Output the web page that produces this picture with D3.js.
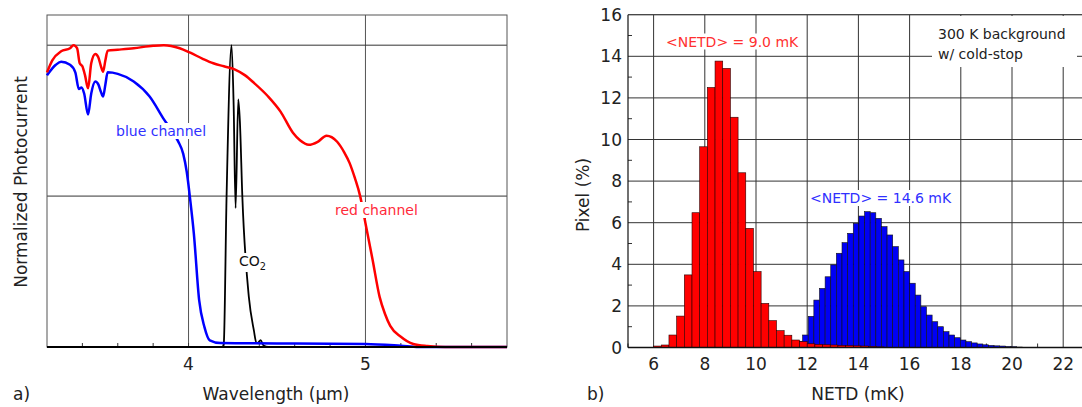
<!DOCTYPE html>
<html>
<head>
<meta charset="utf-8">
<script src="https://cdn.jsdelivr.net/npm/d3@7"></script>
<style>
  body { margin: 0; background: #fff; }
  svg { display: block; font-family: "DejaVu Sans", sans-serif; }
</style>
</head>
<body>
<script>
// ---- panel a) spectral response ----
var redWl  = [3.20,3.23,3.28,3.33,3.35,3.37,3.385,3.40,3.415,3.432,3.45,3.473,3.49,3.505,3.517,3.53,3.543,3.60,3.69,3.80,3.86,3.95,4.01,4.08,4.14,4.20,4.26,4.32,4.37,4.45,4.52,4.59,4.63,4.68,4.73,4.78,4.84,4.88,4.91,4.94,4.97,5.00,5.04,5.08,5.11,5.14,5.20,5.27,5.35,5.45,5.80];
var redVal = [0.91,0.95,0.98,0.99,1.0,0.99,0.94,0.93,0.90,0.857,0.94,0.971,0.96,0.93,0.912,0.95,0.982,0.985,0.99,0.998,1.0,0.99,0.975,0.955,0.94,0.93,0.92,0.90,0.875,0.83,0.78,0.71,0.685,0.67,0.68,0.70,0.68,0.645,0.61,0.56,0.50,0.41,0.29,0.166,0.11,0.07,0.034,0.01,0.003,0,0];

var blueWl  = [3.20,3.25,3.28,3.33,3.36,3.38,3.395,3.41,3.432,3.45,3.473,3.49,3.505,3.517,3.53,3.543,3.60,3.69,3.78,3.86,3.94,3.97,3.99,4.01,4.03,4.06,4.09,4.12,4.18,4.50,5.00,5.20,5.30,5.80];
var blueVal = [0.90,0.935,0.945,0.935,0.91,0.855,0.86,0.84,0.77,0.84,0.88,0.87,0.845,0.83,0.87,0.91,0.905,0.88,0.83,0.755,0.683,0.64,0.58,0.485,0.376,0.155,0.066,0.022,0.013,0.012,0.01,0.004,0,0];

var co2Wl  = [3.20,4.19,4.199,4.215,4.243,4.255,4.266,4.281,4.29,4.304,4.341,4.369,4.384,4.395,4.407,4.424,4.45,5.80];
var co2Val = [0,0,0.01,0.5,1.0,0.8,0.46,0.82,0.75,0.5,0.165,0.056,0.013,0.015,0.023,0.005,0,0];

var wlTicks = [4, 5];

// ---- panel b) NETD histograms ----
var redBins = [6.0,6.3,6.6,6.9,7.2,7.5,7.8,8.1,8.4,8.7,9.0,9.3,9.6,9.9,10.2,10.5,10.8,11.1,11.4,11.7,12.0,12.3,12.6,12.9,13.2,13.5,13.8,14.1,14.4,14.7];
var redPct  = [0.07,0.12,0.6,1.51,3.49,6.48,9.65,12.5,13.77,13.42,11.07,8.4,5.73,3.65,2.12,1.29,0.81,0.59,0.36,0.28,0.18,0.15,0.13,0.12,0.1,0.09,0.08,0.07,0.05,0.03];
var redBinW = 0.3;

var blueBins = [11.60,11.82,12.04,12.26,12.48,12.70,12.92,13.14,13.36,13.58,13.80,14.02,14.24,14.46,14.68,14.90,15.12,15.34,15.56,15.78,16.00,16.22,16.44,16.66,16.88,17.10,17.32,17.54,17.76,17.98,18.20,18.42,18.64,18.86,19.08,19.30,19.52,19.74,19.96,20.18];
var bluePct  = [0.3,0.6,1.5,2.28,2.84,3.4,3.97,4.53,5.04,5.49,5.97,6.32,6.53,6.48,6.21,5.81,5.41,4.85,4.21,3.65,3.09,2.52,1.96,1.56,1.24,1.0,0.76,0.6,0.47,0.36,0.28,0.22,0.17,0.13,0.1,0.08,0.07,0.05,0.04,0.02];
var blueBinW = 0.22;

var netdTicks = [6,8,10,12,14,16,18,20,22];
var pixelTicks = [0,2,4,6,8,10,12,14,16];

var svg = d3.select("body").append("svg").attr("width",1082).attr("height",407);

// white box behind a text element
function boxed(g, x, y, str, color, size, sub) {
  var t = g.append("text").attr("x",x).attr("y",y).attr("fill",color)
    .attr("font-size",size).text(str);
  if (sub) t.append("tspan").attr("font-size",size*0.7).attr("dy",4).text(sub);
  var b = t.node().getBBox();
  g.insert("rect","text:last-of-type")
    .attr("x",b.x-2).attr("y",b.y).attr("width",b.width+4).attr("height",b.height)
    .attr("fill","#fff");
  return t;
}

// ================= panel a =================
var xL = d3.scaleLinear().domain([3.2,5.8]).range([47,507]);
var yL = d3.scaleLinear().domain([0,1.1]).range([347,15]);
var ga = svg.append("g");

// grid
ga.selectAll(".vg").data(wlTicks).enter().append("line")
  .attr("x1",function(d){return xL(d);}).attr("x2",function(d){return xL(d);})
  .attr("y1",yL(1.1)).attr("y2",yL(0)).attr("stroke","#555").attr("stroke-width",1);
ga.selectAll(".hg").data([0.5,1.0]).enter().append("line")
  .attr("x1",xL(3.2)).attr("x2",xL(5.8))
  .attr("y1",function(d){return yL(d);}).attr("y2",function(d){return yL(d);})
  .attr("stroke","#333").attr("stroke-width",1);

// minor ticks on bottom
ga.selectAll(".mt").data(d3.range(3.4,5.8,0.2)).enter().append("line")
  .attr("x1",function(d){return xL(d);}).attr("x2",function(d){return xL(d);})
  .attr("y1",yL(0)).attr("y2",yL(0)-4).attr("stroke","#333");

// frame
ga.append("rect").attr("x",xL(3.2)).attr("y",yL(1.1))
  .attr("width",xL(5.8)-xL(3.2)).attr("height",yL(0)-yL(1.1))
  .attr("fill","none").attr("stroke","#555").attr("stroke-width",1);

function curve(wl, val, color, w) {
  var pts = wl.map(function(d,i){return [d,val[i]];});
  ga.append("path").datum(pts)
    .attr("d", d3.line().x(function(d){return xL(d[0]);}).y(function(d){return yL(d[1]);})
      .curve(d3.curveMonotoneX))
    .attr("fill","none").attr("stroke",color).attr("stroke-width",w)
    .attr("stroke-linejoin","round");
}
curve(co2Wl, co2Val, "#000", 1.8);
curve(blueWl, blueVal, "#0000ff", 2.5);
curve(redWl, redVal, "#ff0000", 2.5);

ga.append("line").attr("x1",xL(3.2)).attr("x2",xL(5.8)).attr("y1",yL(0)).attr("y2",yL(0))
  .attr("stroke","#000").attr("stroke-width",2);

boxed(ga, 116, 136, "blue channel", "#3030ff", 14);
boxed(ga, 335, 215, "red channel", "#ff2a3a", 14);
boxed(ga, 239, 266, "CO", "#111", 14, "2");

ga.selectAll(".tl").data(wlTicks).enter().append("text")
  .attr("x",function(d){return xL(d);}).attr("y",370).attr("text-anchor","middle")
  .attr("font-size",17).attr("fill","#222").text(function(d){return d;});

ga.append("text").attr("transform","translate(27,182) rotate(-90)")
  .attr("text-anchor","middle").attr("font-size",17).attr("fill","#222")
  .text("Normalized Photocurrent");
ga.append("text").attr("x",276).attr("y",400).attr("text-anchor","middle")
  .attr("font-size",17).attr("fill","#222").text("Wavelength (\u00b5m)");
ga.append("text").attr("x",13).attr("y",400).attr("font-size",17).attr("fill","#222").text("a)");

// ================= panel b =================
var xR = d3.scaleLinear().domain([5,23]).range([628,1088.8]);
var yR = d3.scaleLinear().domain([0,16]).range([347.5,14.7]);
var gb = svg.append("g");

gb.selectAll(".vg").data(netdTicks).enter().append("line")
  .attr("x1",function(d){return xR(d);}).attr("x2",function(d){return xR(d);})
  .attr("y1",yR(16)).attr("y2",yR(0)).attr("stroke","#333").attr("stroke-width",1);
gb.selectAll(".hg").data(pixelTicks.slice(1)).enter().append("line")
  .attr("x1",xR(5)).attr("x2",xR(23))
  .attr("y1",function(d){return yR(d);}).attr("y2",function(d){return yR(d);})
  .attr("stroke","#333").attr("stroke-width",1);

// minor ticks
gb.selectAll(".mx").data([5,7,9,11,13,15,17,19,21]).enter().append("line")
  .attr("x1",function(d){return xR(d);}).attr("x2",function(d){return xR(d);})
  .attr("y1",yR(0)).attr("y2",yR(0)-4).attr("stroke","#333");
gb.selectAll(".my").data([1,3,5,7,9,11,13,15]).enter().append("line")
  .attr("x1",xR(5)).attr("x2",xR(5)+4)
  .attr("y1",function(d){return yR(d);}).attr("y2",function(d){return yR(d);})
  .attr("stroke","#333");

gb.selectAll(".bb").data(blueBins).enter().append("rect")
  .attr("x",function(d){return xR(d);})
  .attr("width",function(d){return xR(d+blueBinW)-xR(d);})
  .attr("y",function(d,i){return yR(bluePct[i]);})
  .attr("height",function(d,i){return yR(0)-yR(bluePct[i]);})
  .attr("fill","#0000f5").attr("stroke","#111").attr("stroke-width",0.6);

gb.selectAll(".rb").data(redBins).enter().append("rect")
  .attr("x",function(d){return xR(d);})
  .attr("width",function(d){return xR(d+redBinW)-xR(d);})
  .attr("y",function(d,i){return yR(redPct[i]);})
  .attr("height",function(d,i){return yR(0)-yR(redPct[i]);})
  .attr("fill","#ff0000").attr("stroke","#2a0000").attr("stroke-width",0.6);

// frame
gb.append("line").attr("x1",xR(5)).attr("x2",xR(5)).attr("y1",yR(16)).attr("y2",yR(0))
  .attr("stroke","#111").attr("stroke-width",1.2);
gb.append("line").attr("x1",xR(5)).attr("x2",xR(23)).attr("y1",yR(0)).attr("y2",yR(0))
  .attr("stroke","#111").attr("stroke-width",1.5);
gb.append("line").attr("x1",xR(5)).attr("x2",xR(23)).attr("y1",yR(16)).attr("y2",yR(16))
  .attr("stroke","#444").attr("stroke-width",1);

gb.selectAll(".xl").data(netdTicks).enter().append("text")
  .attr("x",function(d){return xR(d);}).attr("y",370).attr("text-anchor","middle")
  .attr("font-size",17).attr("fill","#222").text(function(d){return d;});
gb.selectAll(".yl").data(pixelTicks).enter().append("text")
  .attr("x",622).attr("y",function(d){return yR(d);}).attr("dy","0.36em")
  .attr("text-anchor","end").attr("font-size",17).attr("fill","#222")
  .text(function(d){return d;});

boxed(gb, 666, 46.5, "<NETD> = 9.0 mK", "#ff3030", 14);
boxed(gb, 810, 203, "<NETD> = 14.6 mK", "#3030ff", 14);

gb.append("rect").attr("x",932).attr("y",16).attr("width",145).attr("height",51).attr("fill","#fff");
gb.append("text").attr("x",938).attr("y",39).attr("font-size",14).attr("fill","#222").text("300 K background");
gb.append("text").attr("x",938).attr("y",58.5).attr("font-size",14).attr("fill","#222").text("w/ cold-stop");

gb.append("text").attr("transform","translate(589,195) rotate(-90)")
  .attr("text-anchor","middle").attr("font-size",17).attr("fill","#222").text("Pixel (%)");
gb.append("text").attr("x",858).attr("y",400).attr("text-anchor","middle")
  .attr("font-size",17).attr("fill","#222").text("NETD (mK)");
gb.append("text").attr("x",587).attr("y",400).attr("font-size",17).attr("fill","#222").text("b)");
</script>
</body>
</html>
